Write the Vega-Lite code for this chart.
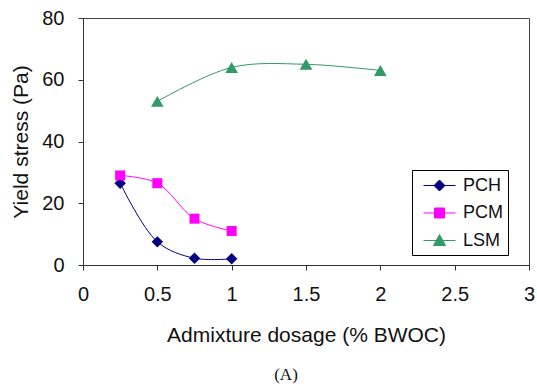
{
  "$schema": "https://vega.github.io/schema/vega-lite/v6.json",
  "width": 446,
  "height": 247,
  "autosize": {"type": "none"},
  "padding": {"left": 83, "top": 18, "right": 8, "bottom": 122},
  "background": "white",
  "config": {
    "font": "Liberation Sans",
    "view": {"stroke": "#444", "strokeWidth": 1}
  },
  "title": {
    "text": "(A)",
    "orient": "bottom",
    "font": "Liberation Serif",
    "fontSize": 17,
    "fontWeight": "normal",
    "color": "#111",
    "offset": 22,
    "dx": -20
  },
  "data": {
    "values": [
      {"series": "PCH", "dosage": 0.25, "stress": 26.5},
      {"series": "PCH", "dosage": 0.5, "stress": 7.5},
      {"series": "PCH", "dosage": 0.75, "stress": 2.2},
      {"series": "PCH", "dosage": 1.0, "stress": 2.0},
      {"series": "PCM", "dosage": 0.25, "stress": 29.0},
      {"series": "PCM", "dosage": 0.5, "stress": 26.5},
      {"series": "PCM", "dosage": 0.75, "stress": 15.0},
      {"series": "PCM", "dosage": 1.0, "stress": 11.0},
      {"series": "LSM", "dosage": 0.5, "stress": 53.0},
      {"series": "LSM", "dosage": 1.0, "stress": 64.0},
      {"series": "LSM", "dosage": 1.5, "stress": 65.0},
      {"series": "LSM", "dosage": 2.0, "stress": 63.0}
    ]
  },
  "encoding": {
    "x": {
      "field": "dosage",
      "type": "quantitative",
      "scale": {"domain": [0, 3], "nice": false},
      "axis": {
        "title": "Admixture dosage (% BWOC)",
        "values": [0, 0.5, 1, 1.5, 2, 2.5, 3],
        "format": "~g",
        "grid": false,
        "domainColor": "#333",
        "tickColor": "#333",
        "tickSize": 5,
        "labelFontSize": 20,
        "labelColor": "#111",
        "labelPadding": 14,
        "labelFlush": false,
        "titleFontSize": 21,
        "titleFontWeight": "normal",
        "titleColor": "#111",
        "titlePadding": 20
      }
    },
    "y": {
      "field": "stress",
      "type": "quantitative",
      "scale": {"domain": [0, 80], "nice": false},
      "axis": {
        "title": "Yield stress (Pa)",
        "values": [0, 20, 40, 60, 80],
        "grid": false,
        "domainColor": "#333",
        "tickColor": "#333",
        "tickSize": 5,
        "labelFontSize": 20,
        "labelColor": "#111",
        "labelPadding": 14,
        "labelFlush": false,
        "titleFontSize": 21,
        "titleFontWeight": "normal",
        "titleColor": "#111",
        "titlePadding": 10
      }
    },
    "color": {
      "field": "series",
      "type": "nominal",
      "scale": {"domain": ["PCH", "PCM", "LSM"], "range": ["#000080", "#FF00FF", "#339966"]},
      "legend": {
        "orient": "none",
        "legendX": 329,
        "legendY": 152,
        "title": null,
        "strokeColor": "#000",
        "fillColor": "#fff",
        "padding": 5,
        "symbolSize": 400,
        "rowPadding": 7.5,
        "labelFontSize": 18,
        "labelColor": "#111",
        "symbolOffset": 12,
        "labelOffset": 13,
        "labelExpr": "datum.label + '    '",
        "encode": {
          "symbols": {
            "update": {
              "shape": {"signal": "datum.value == 'PCH' ? 'M-1.6,0H1.6M0,-0.55L0.55,0L0,0.55L-0.55,0Z' : datum.value == 'PCM' ? 'M-1.6,0H1.6M-0.5,-0.5H0.5V0.5H-0.5Z' : 'M-1.6,0H1.6M0,-0.6L0.6,0.5H-0.6Z'"},
              "size": {"value": 400},
              "fill": {"scale": "color", "field": "value"},
              "stroke": {"scale": "color", "field": "value"},
              "strokeWidth": {"value": 1},
              "opacity": {"value": 1}
            }
          }
        }
      }
    }
  },
  "layer": [
    {
      "mark": {"type": "line", "interpolate": "catmull-rom", "strokeWidth": 1}
    },
    {
      "transform": [{"filter": {"field": "series", "equal": "PCH"}}],
      "mark": {"type": "point", "filled": true, "opacity": 1, "shape": "diamond", "size": 130}
    },
    {
      "transform": [{"filter": {"field": "series", "equal": "PCM"}}],
      "mark": {"type": "point", "filled": true, "opacity": 1, "shape": "square", "size": 100}
    },
    {
      "transform": [{"filter": {"field": "series", "equal": "LSM"}}],
      "mark": {"type": "point", "filled": true, "opacity": 1, "shape": "triangle-up", "size": 160}
    }
  ]
}
